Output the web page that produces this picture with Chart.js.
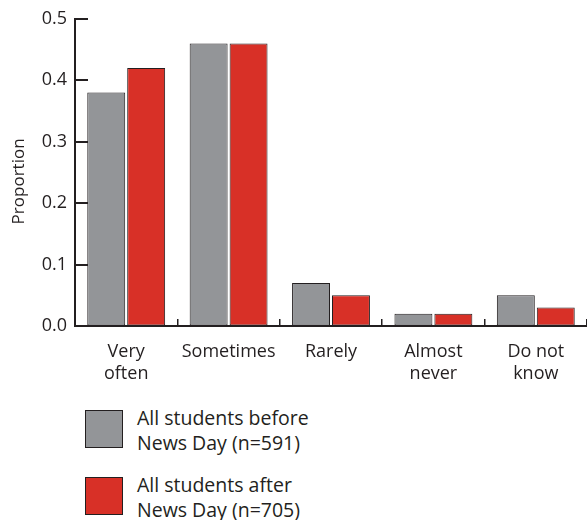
<!DOCTYPE html>
<html>
<head>
<meta charset="utf-8">
<script src="https://cdn.jsdelivr.net/npm/chart.js@4/dist/chart.umd.min.js"></script>
<style>
  html, body { margin: 0; padding: 0; background: #fff; overflow: hidden; }
  #wrap { position: relative; width: 587px; height: 390px; }
  .legend { font-family: "Open Sans", sans-serif; font-size: 19.5px; color: #231f20; line-height: 25px; }
  .item { position: absolute; left: 85px; }
  .box { position: absolute; left: 0; top: 0; width: 36px; height: 36px; border: 1.5px solid #231f20; }
  .txt { position: absolute; left: 52px; top: -5px; white-space: nowrap; }
</style>
</head>
<body>
<div id="wrap"><canvas id="chart" width="587" height="390"></canvas></div>
<div class="legend">
  <div class="item" style="top:410px"><div class="box" style="background:#939598"></div><div class="txt">All students before<br>News Day (n=591)</div></div>
  <div class="item" style="top:477px"><div class="box" style="background:#d83027"></div><div class="txt">All students after<br>News Day (n=705)</div></div>
</div>
<script>
var CATEGORIES = [['Very', 'often'], 'Sometimes', 'Rarely', ['Almost', 'never'], ['Do not', 'know']];
var BEFORE = [0.38, 0.46, 0.07, 0.02, 0.05];
var AFTER = [0.42, 0.46, 0.05, 0.02, 0.03];
var Y_TICKS = [0, 0.1, 0.2, 0.3, 0.4, 0.5];
var Y_TITLE = 'Proportion';

var INK = '#231f20';
var FONT = { family: '"Open Sans", sans-serif', size: 18, lineHeight: 1.2 };

// inward tick marks on the y axis + axis title sitting a bit below centre
var yAxisExtras = {
    id: 'yAxisExtras',
    afterDraw: function (chart) {
        var y = chart.scales.y;
        var c = chart.ctx;
        c.save();
        c.strokeStyle = INK;
        c.lineWidth = 2;
        Y_TICKS.forEach(function (v) {
            var py = Math.round(y.getPixelForValue(v));
            c.beginPath();
            c.moveTo(y.right - 1, py);
            c.lineTo(y.right + 13, py);
            c.stroke();
        });
        c.translate(19, (y.top + y.bottom) / 2 + 9);
        c.rotate(-Math.PI / 2);
        c.fillStyle = INK;
        c.font = '17px "Open Sans", sans-serif';
        c.textAlign = 'center';
        c.textBaseline = 'middle';
        c.fillText(Y_TITLE, 0, 0);
        c.restore();
    }
};

window.onload = function () {
    var ctx = document.getElementById('chart').getContext('2d');
    new Chart(ctx, {
        type: 'bar',
        data: {
            labels: CATEGORIES,
            datasets: [{
                label: 'All students before News Day (n=591)',
                data: BEFORE,
                backgroundColor: '#939598',
                borderColor: INK,
                borderWidth: 1,
                borderSkipped: false,
                categoryPercentage: 0.78,
                barPercentage: 0.95
            }, {
                label: 'All students after News Day (n=705)',
                data: AFTER,
                backgroundColor: '#d83027',
                borderColor: INK,
                borderWidth: 1,
                borderSkipped: false,
                categoryPercentage: 0.78,
                barPercentage: 0.95
            }]
        },
        options: {
            responsive: false,
            animation: false,
            layout: { padding: { top: 4, right: 0, left: 0, bottom: 0 } },
            plugins: {
                legend: { display: false },
                tooltip: { enabled: false }
            },
            scales: {
                x: {
                    grid: { display: true, drawOnChartArea: false, offset: true, tickLength: -7, color: INK, lineWidth: 1.5 },
                    border: { display: true, color: INK, width: 2 },
                    ticks: { color: INK, font: FONT, padding: 22, maxRotation: 0, autoSkip: false },
                    afterFit: function (scale) { scale.height = 64; }
                },
                y: {
                    min: 0,
                    max: 0.5,
                    afterBuildTicks: function (scale) {
                        scale.ticks = Y_TICKS.map(function (v) { return { value: v }; });
                    },
                    grid: { display: true, drawOnChartArea: false, drawTicks: false },
                    border: { display: true, color: INK, width: 2 },
                    ticks: {
                        color: INK, font: FONT, padding: 8,
                        callback: function (v) { return v.toFixed(1); }
                    },
                    afterFit: function (scale) { scale.width = 75; }
                }
            }
        },
        plugins: [yAxisExtras]
    });
};
</script>
</body>
</html>
